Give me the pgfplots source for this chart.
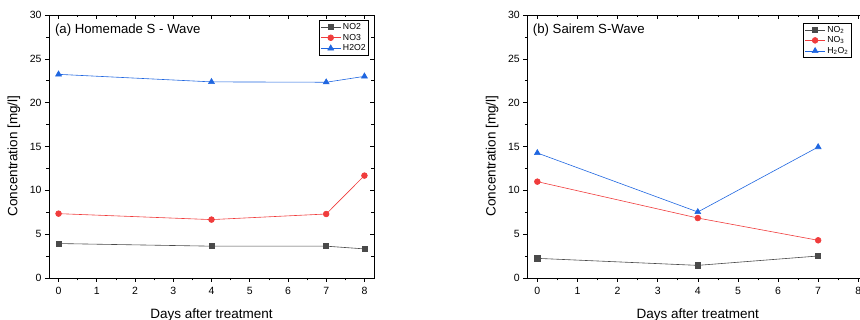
\documentclass[border=0pt]{standalone}
\usepackage{fontspec}
\setmainfont{Liberation Sans}
\usepackage{pgfplots}
\pgfplotsset{compat=1.18}
\definecolor{cgray}{HTML}{4A4A4A}
\definecolor{cred}{HTML}{F03C3C}
\definecolor{cblue}{HTML}{1F66E0}
\pgfplotsset{
  myaxis/.style={
    scale only axis, anchor=south west,
    height=263pt,
    ymin=0, ymax=30, ytick={0,5,...,30}, minor y tick num=1,
    xmin=-0.25, xmax=8.25, xtick={0,...,8}, minor x tick num=1,
    tick align=outside, tickpos=left,
    major tick length=4pt, minor tick length=2.5pt,
    tick style={black, line width=0.6pt},
    axis line style={line width=0.8pt},
    ticklabel style={font=\fontsize{10.5}{12}\selectfont},
    xticklabel style={yshift=-1.5pt},
    /pgf/number format/assume math mode=true,
    xlabel={Days after treatment}, ylabel={Concentration [mg/l]},
    label style={font=\fontsize{13.5}{15}\selectfont},
    xlabel style={yshift=-7pt},
    legend style={font=\fontsize{8.7}{10}\selectfont, draw=black, line width=0.8pt,
      inner sep=1pt, row sep=-1pt, legend cell align=left},
    legend image code/.code={
      \draw[mark repeat=2,mark phase=2,#1] plot coordinates {(0cm,0cm) (0.35cm,0cm) (0.7cm,0cm)};},
    every axis plot/.append style={line width=0.6pt},
  },
  mirror/.style={
    scale only axis, anchor=south west, height=263pt,
    ymin=0, ymax=30, ytick={0,5,...,30}, minor y tick num=1,
    xmin=-0.25, xmax=8.25, xtick={0,...,8}, minor x tick num=1,
    xtick pos=right, ytick pos=right, tick align=inside,
    major tick length=4pt, minor tick length=2.5pt,
    tick style={black, line width=0.6pt},
    axis line style={line width=0.8pt},
    xticklabels={}, yticklabels={},
  },
}
\begin{document}
\begin{tikzpicture}
\useasboundingbox (0,0) rectangle (860pt,320pt);
\begin{axis}[myaxis, at={(49pt,42pt)}, width=325pt,
  ylabel style={at={(rel axis cs:-0.1077,0.464)}, anchor=center},
  legend style={at={(0.985,0.981)}, anchor=north east}]
\addplot[cgray, mark=square*, mark size=2.6pt, mark options={solid, fill=cgray}] coordinates {(0,3.93) (4,3.63) (7,3.63) (8,3.32)};
\addplot[cred, mark=*, mark size=2.9pt] coordinates {(0,7.34) (4,6.66) (7,7.30) (8,11.68)};
\addplot[cblue, mark=triangle*, mark size=3.4pt] coordinates {(0,23.23) (4,22.37) (7,22.33) (8,23.0)};
\legend{NO2,NO3,H2O2}
\node[anchor=base west, inner sep=0pt, font=\fontsize{13.2}{15}\selectfont] at (rel axis cs:0.018,0.93) {(a) Homemade S - Wave};
\end{axis}
\begin{axis}[mirror, at={(49pt,42pt)}, width=325pt]
\addplot[draw=none] coordinates {(0,0)};
\end{axis}
\begin{axis}[myaxis, at={(527.3pt,42pt)}, width=341pt,
  ylabel style={at={(rel axis cs:-0.1035,0.464)}, anchor=center},
  legend style={at={(0.951,0.971)}, anchor=north east}]
\addplot[cgray, mark=square*, mark size=2.6pt, mark options={solid, fill=cgray}] coordinates {(0,2.24) (4,1.44) (7,2.51)};
\addplot[cred, mark=*, mark size=2.9pt] coordinates {(0,10.99) (4,6.84) (7,4.30)};
\addplot[cblue, mark=triangle*, mark size=3.4pt] coordinates {(0,14.26) (4,7.53) (7,14.94)};
\legend{NO\textsubscript{2},NO\textsubscript{3},H\textsubscript{2}O\textsubscript{2}}
\node[anchor=base west, inner sep=0pt, font=\fontsize{13.2}{15}\selectfont] at (rel axis cs:0.016,0.93) {(b) Sairem S-Wave};
\end{axis}
\begin{axis}[mirror, at={(527.3pt,42pt)}, width=341pt]
\addplot[draw=none] coordinates {(0,0)};
\end{axis}
\end{tikzpicture}
\end{document}
